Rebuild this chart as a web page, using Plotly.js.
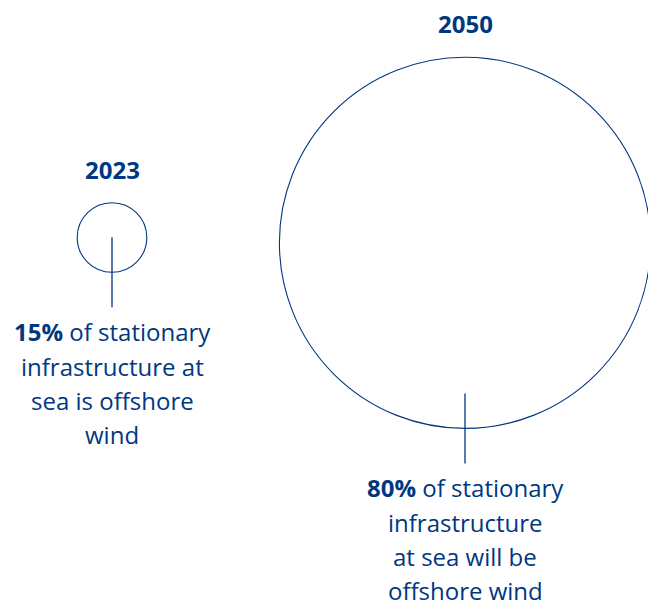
<!DOCTYPE html>
<html>
<head>
<meta charset="utf-8">
<script src="https://cdn.plot.ly/plotly-3.0.1.min.js"></script>
<style>
  html, body { margin: 0; padding: 0; background: #ffffff; }
  #chart { width: 648px; height: 604px; }
</style>
</head>
<body>
<div id="chart"></div>
<script>
// ---- data ----
const years = ['2023', '2050'];
const shares = [15, 80]; // % of stationary infrastructure at sea that is offshore wind
const shareLabels = ['15%', '80%'];
const captionRest = [
  ['of stationary', 'infrastructure at', 'sea is offshore', 'wind'],
  ['of stationary', 'infrastructure', 'at sea will be', 'offshore wind']
];

// ---- layout / style ----
const BLUE = '#003781';
const FONT = 'Open Sans, sans-serif';
const pxPerPct = 2.32;           // circle radius is proportional to share
const centerX = [112, 465];
const centerY = [237.5, 242.8];
const stemLen = 70;
const stemGap = 35;
const captionGap = 24.5;
const lineStep = 34.3;

const shapes = [];
const annotations = [];
years.forEach((yr, i) => {
  const r = shares[i] * pxPerPct;
  const cx = centerX[i], cy = centerY[i];
  shapes.push({
    type: 'circle', xref: 'x', yref: 'y',
    x0: cx - r, x1: cx + r, y0: cy - r, y1: cy + r,
    line: { color: BLUE, width: 1.1 }, fillcolor: 'rgba(0,0,0,0)'
  });
  const stemEnd = cy + r + stemGap;
  shapes.push({
    type: 'line', xref: 'x', yref: 'y',
    x0: cx, x1: cx, y0: stemEnd - stemLen, y1: stemEnd,
    line: { color: BLUE, width: 1.3 }
  });
  annotations.push({
    x: cx, y: cy - r - 33.5, xref: 'x', yref: 'y',
    text: '<b>' + yr + '</b>', showarrow: false,
    xanchor: 'center', yanchor: 'middle',
    font: { family: FONT, size: 24, color: BLUE }
  });
  const lines = captionRest[i].slice();
  lines[0] = '<b>' + shareLabels[i] + '</b> ' + lines[0];
  lines.forEach((t, k) => {
    annotations.push({
      x: cx, y: stemEnd + captionGap + k * lineStep, xref: 'x', yref: 'y',
      text: t, showarrow: false,
      xanchor: 'center', yanchor: 'middle',
      font: { family: FONT, size: 24, color: BLUE }
    });
  });
});

const layout = {
  width: 648, height: 604,
  margin: { l: 0, r: 0, t: 0, b: 0 },
  paper_bgcolor: '#ffffff', plot_bgcolor: '#ffffff',
  showlegend: false,
  xaxis: { range: [0, 648], visible: false, fixedrange: true },
  yaxis: { range: [604, 0], visible: false, fixedrange: true },
  shapes: shapes,
  annotations: annotations
};

Plotly.newPlot('chart', [{ x: [], y: [], type: 'scatter', hoverinfo: 'skip' }], layout, { displayModeBar: false, staticPlot: true });
</script>
</body>
</html>
